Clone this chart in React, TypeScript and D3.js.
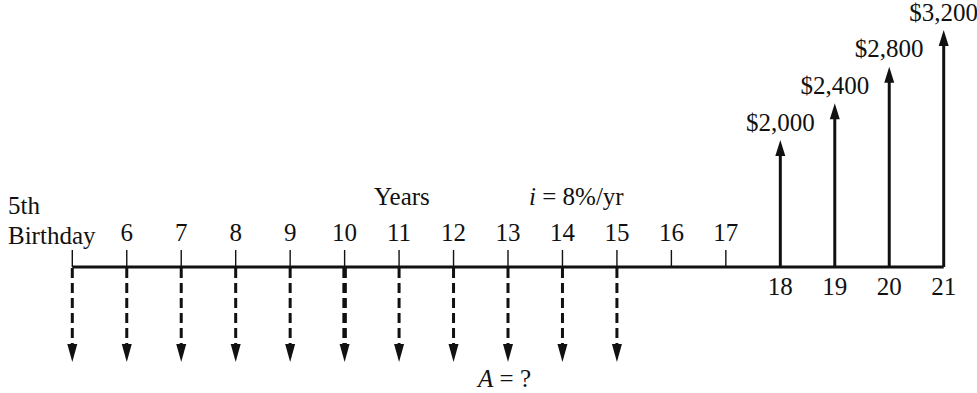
import React from "react";
import * as d3 from "d3";

const years = d3.range(5, 22);
const tickYears = [5, 6, 7, 8, 9, 10, 11, 12, 13, 14, 15, 16, 17];
const topLabels = ["6", "7", "8", "9", "10", "11", "12", "13", "14", "15", "16", "17"];
const topLabelYears = [6, 7, 8, 9, 10, 11, 12, 13, 14, 15, 16, 17];
const bottomLabels = ["18", "19", "20", "21"];
const bottomLabelYears = [18, 19, 20, 21];
const depositYears = [5, 6, 7, 8, 9, 10, 11, 12, 13, 14, 15];
const receiptYears = [18, 19, 20, 21];
const receiptValues = [2000, 2400, 2800, 3200];

const W = 977;
const H = 393;
const FONT = "'Liberation Serif', 'Times New Roman', serif";

export default function App() {
  const x = d3.scaleLinear().domain([5, 21]).range([72.3, 943.7]);
  const y = d3.scaleLinear().domain([2000, 3200]).range([140, 30]);
  const axisY = 267;
  const fmt = (v: number) => "$" + d3.format(",")(v);

  return (
    <svg
      width={W}
      height={H}
      style={{ position: "absolute", left: 0, top: 0, background: "#fff" }}
      fontFamily={FONT}
      fontSize={25}
    >
      <rect width={W} height={H} fill="#fff" />
      {/* ticks */}
      {tickYears.map((yr) => (
        <line key={"t" + yr} x1={x(yr)} x2={x(yr)} y1={250} y2={axisY} stroke="#111" strokeWidth={1.4} />
      ))}
      {/* main axis */}
      <line x1={x(years[0])} x2={x(years[years.length - 1])} y1={axisY} y2={axisY} stroke="#111" strokeWidth={3} />
      {/* labels above */}
      {topLabelYears.map((yr, i) => (
        <text key={"l" + yr} x={x(yr)} y={241} textAnchor="middle" fill="#111">
          {topLabels[i]}
        </text>
      ))}
      {bottomLabelYears.map((yr, i) => (
        <text key={"b" + yr} x={x(yr)} y={295} textAnchor="middle" fill="#111">
          {bottomLabels[i]}
        </text>
      ))}
      <text x={8} y={214} fill="#111">5th</text>
      <text x={8} y={244} fill="#111">Birthday</text>
      <text x={374} y={205} fill="#111">Years</text>
      <text x={529} y={205} fill="#111">
        <tspan fontStyle="italic">i</tspan> = 8%/yr
      </text>
      <text x={478} y={387} fill="#111">
        <tspan fontStyle="italic">A</tspan> = ?
      </text>
      {/* deposits: dashed down arrows */}
      {depositYears.map((yr) => {
        const cx = x(yr);
        const sw = yr === 10 ? 4.5 : 3;
        return (
          <g key={"d" + yr}>
            <line x1={cx} x2={cx} y1={axisY + 1} y2={345} stroke="#111" strokeWidth={sw} strokeDasharray="10,5" />
            <path d={`M${cx - 5},344 L${cx + 5},344 L${cx},362 Z`} fill="#111" />
          </g>
        );
      })}
      {/* receipts: up arrows */}
      {receiptYears.map((yr, i) => {
        const cx = x(yr);
        const ty = y(receiptValues[i]);
        return (
          <g key={"r" + yr}>
            <line x1={cx} x2={cx} y1={axisY} y2={ty + 10} stroke="#111" strokeWidth={3} />
            <path d={`M${cx - 5},${ty + 16} L${cx + 5},${ty + 16} L${cx},${ty} Z`} fill="#111" />
            <text x={cx} y={ty - 9.5} textAnchor="middle" fill="#111">
              {fmt(receiptValues[i])}
            </text>
          </g>
        );
      })}
    </svg>
  );
}
